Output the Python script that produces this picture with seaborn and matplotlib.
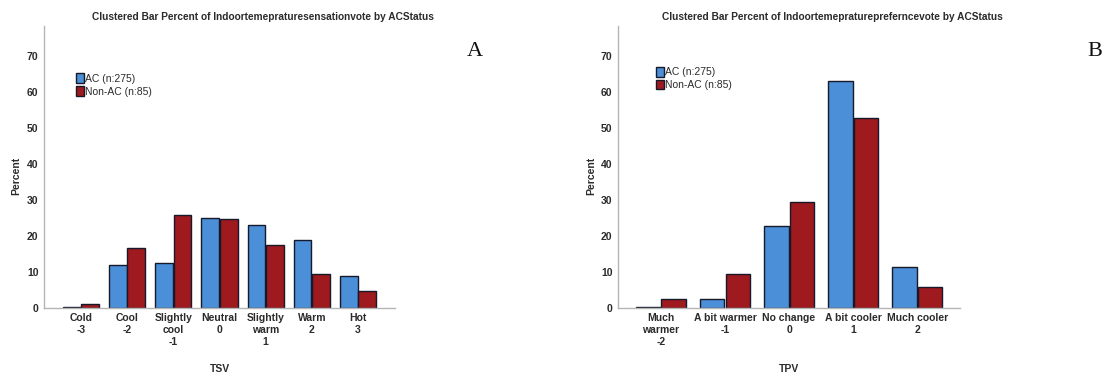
import pandas as pd
import seaborn as sns
import matplotlib.pyplot as plt
from matplotlib.patches import Patch

## Data
groups = ['AC (n:275)', 'Non-AC (n:85)']

tsv_labels = ['Cold\n-3', 'Cool\n-2', 'Slightly\ncool\n-1', 'Neutral\n0',
              'Slightly\nwarm\n1', 'Warm\n2', 'Hot\n3']
tsv_ac = [0.4, 12.0, 12.4, 25.1, 23.0, 19.0, 8.8]
tsv_nonac = [1.2, 16.6, 25.9, 24.7, 17.6, 9.4, 4.7]

tpv_labels = ['Much\nwarmer\n-2', 'A bit warmer\n-1', 'No change\n0',
              'A bit cooler\n1', 'Much cooler\n2']
tpv_ac = [0.4, 2.6, 22.9, 63.2, 11.3]
tpv_nonac = [2.4, 9.4, 29.4, 53.0, 5.9]

blue = '#4A8FD8'
red = '#9E1A1E'
txt = '#2b2b2b'

sns.set_style('white')
plt.rcParams['font.family'] = ['Liberation Sans Narrow', 'Liberation Sans', 'DejaVu Sans']


def long_df(labels, ac, nonac):
    return pd.DataFrame({
        'cat': labels * 2,
        'grp': [groups[0]] * len(labels) + [groups[1]] * len(labels),
        'pct': ac + nonac,
    })


fig = plt.figure(figsize=(11.08, 3.76), dpi=100)
axA = fig.add_axes([0.0397, 0.181, 0.3168, 0.750])
axB = fig.add_axes([0.5578, 0.181, 0.3087, 0.750])

panels = [
    (axA, long_df(tsv_labels, tsv_ac, tsv_nonac), 'TSV', (-0.8, 6.8), (0.075, 0.85),
     'Clustered Bar Percent of Indoortemepraturesensationvote by ACStatus', 0.237, 'A', 0.429),
    (axB, long_df(tpv_labels, tpv_ac, tpv_nonac), 'TPV', (-0.67, 4.67), (0.095, 0.872),
     'Clustered Bar Percent of Indoortemepraturepreferncevote by ACStatus', 0.751, 'B', 0.988),
]

for ax, df, xlab, xl, leg_pos, title, tx, letter, lx in panels:
    sns.barplot(data=df, x='cat', y='pct', hue='grp', palette=[blue, red],
                width=0.8, gap=0.04, edgecolor='#15192a', linewidth=1.0,
                saturation=1, legend=False, ax=ax)
    ax.set_ylim(0, 78.5)
    ax.set_xlim(*xl)
    ax.set_yticks(range(0, 71, 10))
    ax.tick_params(length=0, labelsize=7.5, labelcolor=txt, pad=4)
    for lab in ax.get_xticklabels() + ax.get_yticklabels():
        lab.set_fontweight('bold')
    for s in ['top', 'right']:
        ax.spines[s].set_visible(False)
    for s in ['left', 'bottom']:
        ax.spines[s].set_color('#b5b5b5')
        ax.spines[s].set_linewidth(1.0)
    ax.set_xlabel(xlab, fontsize=7.5, fontweight='bold', color=txt)
    ax.set_ylabel('Percent', fontsize=7.5, fontweight='bold', color=txt)
    ax.xaxis.set_label_coords(0.5, -0.2)
    ax.yaxis.set_label_coords(-0.065, 0.47)

    handles = [Patch(facecolor=blue, edgecolor='#15192a', label=groups[0]),
               Patch(facecolor=red, edgecolor='#15192a', label=groups[1])]
    ax.legend(handles=handles, loc='upper left', bbox_to_anchor=leg_pos,
              frameon=False, fontsize=7.5, handlelength=0.8, handleheight=1.0,
              handletextpad=0.1, labelspacing=0.25, borderpad=0, labelcolor=txt)

    fig.text(tx, 0.955, title, ha='center', va='center', fontsize=7.3,
             fontweight='bold', color=txt)
    fig.text(lx, 0.862, letter, ha='center', va='center', fontsize=16,
             family=['Liberation Serif', 'DejaVu Serif'], color='#111111')

fig.savefig('out.png', dpi=100)
